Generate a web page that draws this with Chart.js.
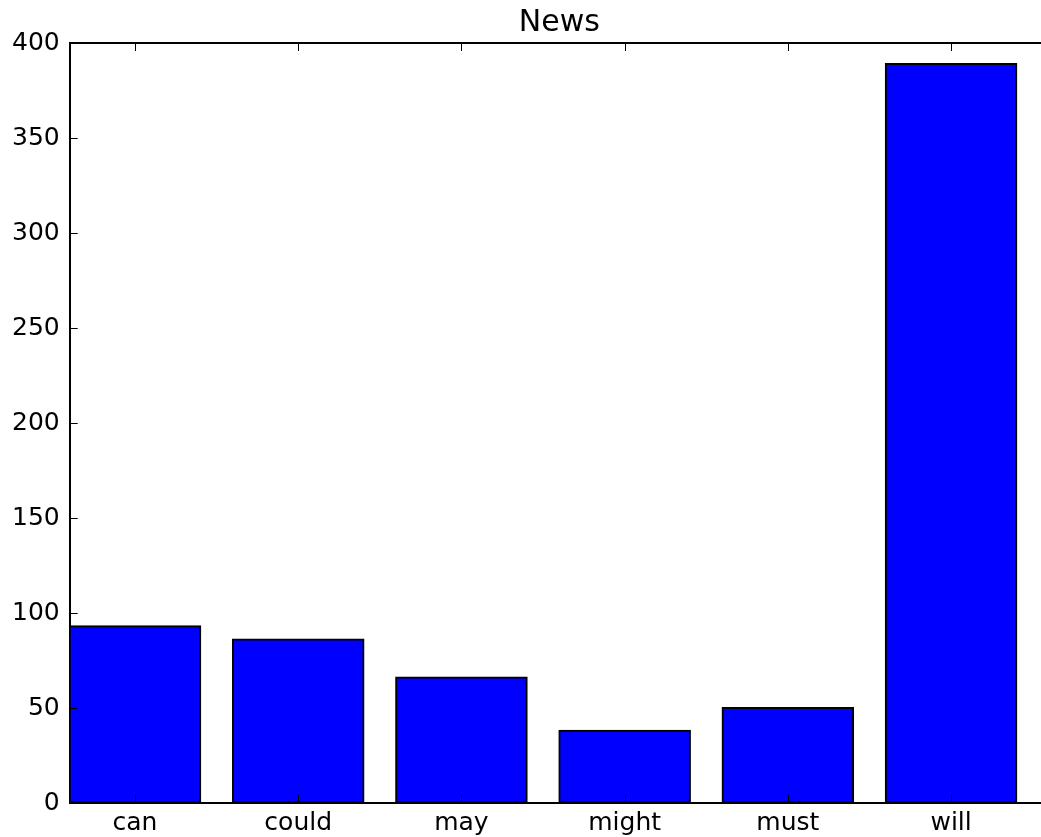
<!DOCTYPE html>
<html>
<head>
<meta charset="utf-8">
<script src="https://cdn.jsdelivr.net/npm/chart.js@4"></script>
<style>
  html, body { margin: 0; padding: 0; background: #fff; overflow: hidden; }
  #wrap { position: absolute; left: 0; top: 0; width: 1060px; height: 837px; }
  canvas { display: block; }
</style>
</head>
<body>
<div id="wrap"><canvas id="c" width="1060" height="837"></canvas></div>
<script>
// ---- data ----
const categories = ["can", "could", "may", "might", "must", "will"];
const counts = [93, 86, 66, 38, 50, 389];
const yTickValues = [0, 50, 100, 150, 200, 250, 300, 350, 400];
const chartTitle = "News";

// matplotlib-style edge-aligned bars: bar i spans [i, i+0.8], label at i+0.4
const BAR_OFFSET = 0.4;

const FONT = "'DejaVu Sans', 'Liberation Sans', sans-serif";

const innerTicks = {
  id: 'innerTicks',
  afterDraw(chart) {
    const { ctx, chartArea: a, scales: { x, y } } = chart;
    const L = 8;
    ctx.save();
    ctx.strokeStyle = '#000';
    ctx.lineWidth = 1;
    ctx.beginPath();
    x.ticks.forEach(t => {
      const px = Math.round(x.getPixelForValue(t.value)) + 0.5;
      ctx.moveTo(px, a.bottom); ctx.lineTo(px, a.bottom - L);
      ctx.moveTo(px, a.top); ctx.lineTo(px, a.top + L);
    });
    y.ticks.forEach(t => {
      const py = Math.round(y.getPixelForValue(t.value)) + 0.5;
      ctx.moveTo(a.left, py); ctx.lineTo(a.left + L, py);
      ctx.moveTo(a.right, py); ctx.lineTo(a.right - L, py);
    });
    ctx.stroke();
    ctx.restore();
  }
};

new Chart(document.getElementById('c'), {
  type: 'bar',
  data: {
    datasets: [{
      data: categories.map((c, i) => ({ x: i + BAR_OFFSET, y: counts[i] })),
      backgroundColor: '#0000ff',
      borderColor: '#000000',
      borderWidth: 2,
      borderSkipped: false,
      inflateAmount: 1,
      barPercentage: 0.8,
      categoryPercentage: 1.0
    }]
  },
  options: {
    responsive: false,
    animation: false,
    devicePixelRatio: 1,
    layout: { padding: { left: 2, right: 11, top: 0, bottom: -6 } },
    plugins: {
      legend: { display: false },
      tooltip: { enabled: false },
      title: {
        display: true,
        fullSize: false,
        text: chartTitle,
        color: '#000',
        font: { family: FONT, size: 30, weight: 'normal' },
        padding: { top: 5, bottom: 2 }
      }
    },
    scales: {
      x: {
        type: 'linear',
        position: 'bottom',
        offset: false,
        min: 0,
        max: categories.length,
        afterBuildTicks(scale) {
          scale.ticks = categories.map((c, i) => ({ value: i + BAR_OFFSET }));
        },
        ticks: {
          color: '#000',
          font: { family: FONT, size: 25 },
          padding: 5,
          maxRotation: 0,
          autoSkip: false,
          callback: (v, i) => categories[i]
        },
        grid: { display: true, offset: false, drawOnChartArea: false, drawTicks: false },
        border: { display: true, color: '#000', width: 2 }
      },
      x2: {
        type: 'linear',
        position: 'top',
        display: true,
        offset: false,
        min: 0,
        max: categories.length,
        ticks: { display: false },
        grid: { display: true, offset: false, drawOnChartArea: false, drawTicks: false },
        border: { display: true, color: '#000', width: 2 }
      },
      y: {
        type: 'linear',
        position: 'left',
        min: yTickValues[0],
        max: yTickValues[yTickValues.length - 1],
        afterBuildTicks(scale) {
          scale.ticks = yTickValues.map(v => ({ value: v }));
        },
        ticks: {
          color: '#000',
          font: { family: FONT, size: 25 },
          padding: 10
        },
        grid: { display: true, drawOnChartArea: false, drawTicks: false },
        border: { display: true, color: '#000', width: 2 }
      },
      y2: {
        type: 'linear',
        position: 'right',
        display: true,
        min: yTickValues[0],
        max: yTickValues[yTickValues.length - 1],
        ticks: { display: false },
        grid: { display: true, drawOnChartArea: false, drawTicks: false },
        border: { display: true, color: '#000', width: 2 }
      }
    }
  },
  plugins: [innerTicks]
});
</script>
</body>
</html>
